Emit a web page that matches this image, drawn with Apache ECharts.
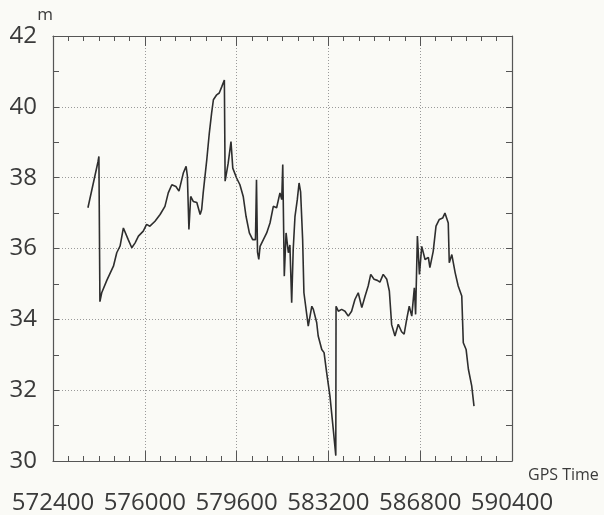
<!DOCTYPE html>
<html>
<head>
<meta charset="utf-8">
<script src="https://cdn.jsdelivr.net/npm/echarts@6/dist/echarts.min.js"></script>
<style>
html,body{margin:0;padding:0;background:#fafaf6;}
#c{width:604px;height:515px;}
</style>
</head>
<body>
<div id="c"></div>
<script>
var gpsTime = [573770,574165,574200,574240,574310,574510,574770,574900,575030,575160,575220,575350,575490,575620,575750,575940,576070,576200,576400,576600,576790,576920,577060,577220,577340,577510,577620,577670,577730,577800,577900,578040,578170,578230,578290,578430,578530,578620,578690,578820,578920,579020,579120,579150,579270,579380,579450,579600,579730,579860,579970,580100,580230,580340,580380,580420,580470,580520,580650,580780,580910,581040,581170,581300,581370,581410,581470,581540,581630,581690,581760,581820,581890,581980,582050,582110,582190,582240,582280,582410,582550,582610,582740,582800,582940,583030,583130,583260,583390,583490,583500,583590,583720,583850,583980,584110,584240,584370,584510,584640,584760,584860,584990,585120,585220,585350,585490,585590,585680,585810,585940,586070,586170,586270,586370,586470,586570,586620,586690,586770,586860,586990,587120,587180,587310,587420,587550,587680,587770,587900,587940,588040,588170,588290,588430,588490,588600,588690,588820,588910];
var height = [37.15,38.45,38.6,34.5,34.75,35.1,35.5,35.88,36.07,36.58,36.62,36.25,36.02,36.16,36.35,36.49,36.68,36.63,36.77,36.96,37.19,37.57,37.8,37.75,37.62,38.13,38.32,38.04,36.54,37.47,37.33,37.3,36.96,37.1,37.57,38.5,39.26,39.82,40.2,40.34,40.39,40.57,40.76,37.9,38.41,39.02,38.27,37.99,37.8,37.47,36.91,36.44,36.25,36.25,37.94,35.9,35.69,36.06,36.25,36.44,36.72,37.19,37.15,37.57,37.38,38.37,35.22,36.44,35.88,36.1,34.47,35.97,36.91,37.38,37.85,37.6,36.25,34.75,34.7,33.81,34.37,34.28,33.91,33.53,33.15,33.06,32.5,31.84,30.9,30.15,34.37,34.23,34.28,34.23,34.09,34.23,34.56,34.75,34.33,34.66,34.94,35.27,35.13,35.1,35.05,35.27,35.13,34.8,33.85,33.53,33.86,33.65,33.58,34.0,34.37,34.09,34.89,34.14,36.35,35.27,36.06,35.69,35.75,35.46,35.92,36.63,36.82,36.86,37.0,36.72,35.6,35.83,35.32,34.94,34.66,33.34,33.15,32.59,32.12,31.55];
var xMin = 572400, xMax = 590400, xStep = 3600;
var yMin = 30, yMax = 42, yStep = 2;

var data = gpsTime.map(function(t, i){ return [t, height[i]]; });
var font = 'Open Sans';
var ink = '#3a3a3a';
var gridLine = {show:true, lineStyle:{color:'#9a9a9a', type:[1,2], width:1}};

var chart = echarts.init(document.getElementById('c'));
chart.setOption({
  backgroundColor:'#fafaf6',
  animation:false,
  grid:{left:53, right:92, top:36, bottom:53, containLabel:false},
  xAxis:[{
    type:'value', min:xMin, max:xMax, interval:xStep, position:'bottom',
    name:'GPS Time', nameLocation:'end', nameGap:16,
    nameTextStyle:{fontFamily:font, fontSize:16, color:ink, align:'left', verticalAlign:'top', padding:[6,0,0,0]},
    axisLine:{show:true, lineStyle:{color:'#555', width:1.2}},
    axisTick:{show:true, inside:true, length:10, lineStyle:{color:'#555'}},
    minorTick:{show:true, splitNumber:6, length:5, lineStyle:{color:'#555'}},
    axisLabel:{fontFamily:font, fontSize:24, color:ink, margin:30, formatter:function(v){return String(v);}},
    splitLine:gridLine
  },{
    type:'value', min:xMin, max:xMax, interval:xStep, position:'top',
    axisLine:{show:true, lineStyle:{color:'#555', width:1.2}},
    axisTick:{show:true, inside:true, length:10, lineStyle:{color:'#555'}},
    minorTick:{show:true, splitNumber:6, length:5, lineStyle:{color:'#555'}},
    axisLabel:{show:false}, splitLine:{show:false}
  }],
  yAxis:[{
    type:'value', min:yMin, max:yMax, interval:yStep, position:'left',
    name:'m', nameLocation:'end', nameGap:9,
    nameTextStyle:{fontFamily:font, fontSize:17, color:ink, align:'right', padding:[0,0,0,0]},
    axisLine:{show:true, lineStyle:{color:'#555', width:1.2}},
    axisTick:{show:true, inside:true, length:6, lineStyle:{color:'#555'}},
    minorTick:{show:true, splitNumber:2, length:6, lineStyle:{color:'#555'}},
    axisLabel:{fontFamily:font, fontSize:24, color:ink, margin:16},
    splitLine:gridLine
  },{
    type:'value', min:yMin, max:yMax, interval:yStep, position:'right',
    axisLine:{show:true, lineStyle:{color:'#555', width:1.2}},
    axisTick:{show:true, inside:true, length:6, lineStyle:{color:'#555'}},
    minorTick:{show:true, splitNumber:2, length:6, lineStyle:{color:'#555'}},
    axisLabel:{show:false}, splitLine:{show:false}
  }],
  series:[{
    type:'line', data:data, showSymbol:false, symbol:'none',
    xAxisIndex:0, yAxisIndex:0,
    lineStyle:{color:'#2e2e2e', width:1.6}
  }]
});
</script>
</body>
</html>
